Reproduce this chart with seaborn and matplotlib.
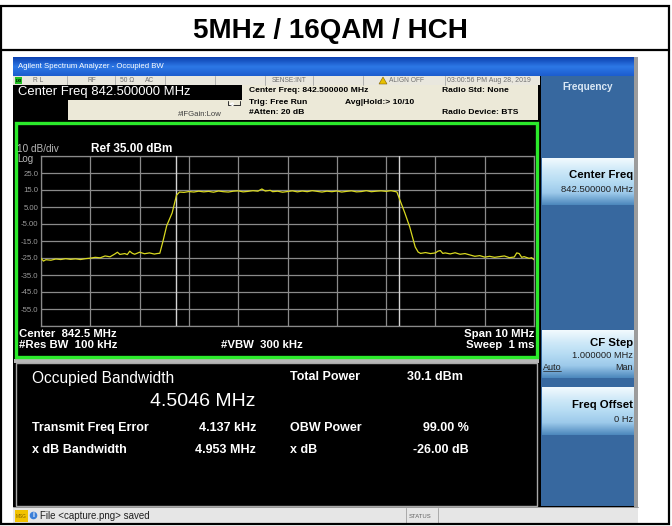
import numpy as np
import matplotlib
matplotlib.use("Agg")
import matplotlib.pyplot as plt
from matplotlib.patches import Rectangle, Polygon, Circle
from matplotlib.colors import LinearSegmentedColormap
import seaborn as sns

# ---------------- data ----------------
title = "5MHz / 16QAM / HCH"
center_mhz = 842.5
span_mhz = 10.0
ref_dbm = 35.0
db_per_div = 10.0
obw_mhz = 4.5046

offset_mhz = [-5.0, -4.95, -4.9, -4.8, -4.7, -4.6, -4.5, -4.4, -4.3, -4.2, -4.1, -4.0,
              -3.9, -3.8, -3.7, -3.6, -3.5, -3.45, -3.4, -3.3, -3.25, -3.2, -3.15, -3.1,
              -3.0, -2.9, -2.8, -2.7, -2.65, -2.59, -2.53, -2.45, -2.34, -2.29, -2.25, -2.19,
              -2.1, -2.0, -1.9, -1.8, -1.7, -1.6, -1.5, -1.4, -1.3, -1.2, -1.1, -1.0,
              -0.9, -0.8, -0.7, -0.6, -0.52, -0.45, -0.35, -0.3, -0.2, -0.1, 0.0, 0.1,
              0.2, 0.3, 0.4, 0.5, 0.6, 0.7, 0.8, 0.9, 1.0, 1.1, 1.2, 1.3,
              1.4, 1.5, 1.6, 1.7, 1.8, 1.9, 2.0, 2.1, 2.2, 2.22, 2.28, 2.38,
              2.48, 2.59, 2.65, 2.7, 2.8, 2.9, 3.0, 3.05, 3.1, 3.15, 3.2, 3.3,
              3.4, 3.5, 3.6, 3.7, 3.8, 3.9, 4.0, 4.1, 4.2, 4.3, 4.4, 4.5,
              4.6, 4.65, 4.7, 4.75, 4.8, 4.9, 4.95, 5.0]
level_dbm = [-25.2, -26.8, -26.0, -26.3, -25.6, -25.9, -25.4, -25.8, -25.5, -25.9, -25.4, -25.1,
             -24.6, -24.9, -23.8, -24.3, -22.6, -21.6, -22.9, -22.4, -23.0, -21.0, -22.2, -22.8,
             -21.6, -22.5, -22.0, -22.7, -22.4, -22.2, -15.6, -6.0, 1.5, 7.4, 12.0, 13.8,
             13.6, 14.1, 13.8, 14.3, 13.9, 14.2, 13.7, 14.4, 14.0, 13.8, 14.3, 14.5,
             13.9, 14.2, 14.6, 14.3, 15.6, 14.4, 14.8, 14.0, 14.3, 13.7, 14.1, 14.5,
             13.9, 14.4, 14.0, 14.6, 14.2, 13.8, 14.3, 14.0, 14.4, 13.8, 14.2, 14.5,
             13.9, 14.1, 14.6, 14.0, 14.3, 14.5, 14.2, 14.6, 14.0, 13.8, 9.1, 1.5,
             -6.8, -18.5, -21.5, -22.3, -21.8, -22.4, -22.0, -21.0, -20.6, -22.3, -22.0, -22.6,
             -21.9, -22.8, -22.4, -23.2, -24.0, -23.6, -24.5, -24.0, -24.6, -24.2, -23.8, -24.8,
             -24.4, -22.0, -22.4, -24.6, -24.2, -25.2, -24.8, -26.0]

y_tick_values = [-65, -55, -45, -35, -25, -15, -5, 5, 15, 25, 35]
y_tick_labels = ["", "-55.0", "-45.0", "-35.0", "-25.0", "-15.0", "-5.00", "5.00", "15.0", "25.0", ""]

meas_left_labels = ["Transmit Freq Error", "x dB Bandwidth"]
meas_left_values = ["4.137 kHz", "4.953 MHz"]
meas_right_labels = ["OBW Power", "x dB"]
meas_right_values = ["99.00 %", "-26.00 dB"]

# ---------------- style ----------------
sns.set_style("dark")
plt.rcParams["font.family"] = ["Liberation Sans", "DejaVu Sans"]

W, H = 672, 526
fig = plt.figure(figsize=(W / 100, H / 100), dpi=100)
fig.patch.set_facecolor("white")
bg = fig.add_axes([0, 0, 1, 1], zorder=0)
bg.set_xlim(0, W)
bg.set_ylim(H, 0)
bg.axis("off")


def rect(x0, y0, x1, y1, fc, ec="none", lw=0, z=1):
    bg.add_patch(Rectangle((x0, y0), x1 - x0, y1 - y0, facecolor=fc,
                           edgecolor=ec, linewidth=lw, zorder=z))


def grad(x0, y0, x1, y1, colors, z=1):
    cmap = LinearSegmentedColormap.from_list("g", colors)
    bg.imshow(np.linspace(0, 1, 64).reshape(-1, 1), cmap=cmap, aspect="auto",
              extent=(x0, x1, y1, y0), zorder=z, interpolation="bilinear")


def txt(x, y, s, size, color, weight="normal", ha="left", va="center", z=5, **kw):
    bg.text(x, y, s, fontsize=size, color=color, fontweight=weight, ha=ha, va=va,
            zorder=z, **kw)


# outer frame & title
rect(1, 6, 669, 524, "none", ec="black", lw=1.6, z=10)
bg.plot([1, 669], [50, 50], color="black", lw=1.6, zorder=10)
txt(330, 31, title, 20, "black", weight="bold", ha="center")

# screen
rect(13, 57, 638, 525, "black")
rect(634, 57, 638, 525, "#9c9c9c", z=2)
grad(13, 57, 634, 76, ["#0b3fae", "#2d78e6", "#1c5dcf"], z=2)
txt(18, 66.5, "Agilent Spectrum Analyzer - Occupied BW", 5.6, "white")

# status row
rect(13, 76, 540, 85, "#e9e7de", z=2)
for xs in [67, 115, 165, 215, 265, 313, 363, 445]:
    bg.plot([xs, xs], [76, 85], color="#a8a8a8", lw=0.6, zorder=3)
rect(15, 77, 22, 84, "#22c022", z=3)
txt(18.5, 80.5, "LXI", 2.8, "black", ha="center", weight="bold")
txt(33, 80.5, "R L", 4.8, "#707070")
txt(88, 80.5, "RF", 4.8, "#707070")
txt(120, 80.5, "50 Ω", 4.8, "#707070")
txt(145, 80.5, "AC", 4.8, "#707070")
txt(289, 80.5, "SENSE:INT", 4.8, "#707070", ha="center")
bg.add_patch(Polygon([[379, 84], [387, 84], [383, 77]], closed=True, facecolor="#e8c000",
                     edgecolor="#806000", lw=0.4, zorder=3))
txt(389, 80.5, "ALIGN OFF", 4.8, "#707070")
txt(447, 80.5, "03:00:56 PM Aug 28, 2019", 5.0, "#707070")

# info area
rect(15, 85, 538, 120, "#ece9d8", z=2)
rect(15, 85, 242, 99.5, "black", z=3)
rect(15, 99.5, 68, 120, "black", z=3)
txt(18, 92.5, "Center Freq 842.500000 MHz", 9.4, "white", z=4)
txt(178, 114, "#IFGain:Low", 5.6, "#404040")
bg.plot([228, 228, 240, 240], [101, 105, 105, 101], color="#303030", lw=0.7, zorder=4)
bg.add_patch(Polygon([[230, 104.2], [233, 102.8], [233, 105.6]], closed=True,
                     facecolor="#303030", zorder=4))
txt(249, 91, "Center Freq: 842.500000 MHz", 6.1, "black", weight="bold")
txt(249, 102, "Trig: Free Run", 6.1, "black", weight="bold")
txt(249, 112, "#Atten: 20 dB", 6.1, "black", weight="bold")
txt(345, 102, "Avg|Hold:> 10/10", 6.1, "black", weight="bold")
txt(442, 91, "Radio Std: None", 6.1, "black", weight="bold")
txt(442, 112, "Radio Device: BTS", 6.1, "black", weight="bold")

# graph area
rect(16, 122.5, 537, 357, "black", ec="#2bea2b", lw=2.4, z=3)
txt(17, 149, "10 dB/div", 7.2, "#b8b8b8")
txt(17, 158.5, "Log", 7.0, "#b8b8b8")
txt(91, 149, f"Ref {ref_dbm:.2f} dBm", 8.5, "white", weight="bold")
txt(19, 334, f"Center  {center_mhz} MHz", 8.2, "white", weight="bold")
txt(19, 345.5, "#Res BW  100 kHz", 8.2, "white", weight="bold")
txt(262, 345.5, "#VBW  300 kHz", 8.2, "white", weight="bold", ha="center")
txt(534, 334, f"Span {span_mhz:.0f} MHz", 8.2, "white", weight="bold", ha="right")
txt(534, 345.5, "Sweep  1 ms", 8.2, "white", weight="bold", ha="right")

# measurement area
rect(14, 359, 539, 362.5, "#b8b8b8", z=2)
rect(16, 362.5, 537, 506, "black", ec="#a8a8a8", lw=1, z=2)
txt(32, 378, "Occupied Bandwidth", 11.2, "white")
txt(256, 401, f"{obw_mhz:.4f} MHz", 14.0, "white", ha="right")
txt(290, 377, "Total Power", 9.0, "white", weight="bold")
txt(407, 377, "30.1 dBm", 9.0, "white", weight="bold")
for i, (a, b, c, d) in enumerate(zip(meas_left_labels, meas_left_values,
                                     meas_right_labels, meas_right_values)):
    yy = 428 + i * 22
    txt(32, yy, a, 9.0, "white", weight="bold")
    txt(256, yy, b, 9.0, "white", weight="bold", ha="right")
    txt(290, yy, c, 9.0, "white", weight="bold")
    txt(469, yy, d, 9.0, "white", weight="bold", ha="right")

# right softkey panel
rect(541, 76, 634, 506, "#37689f", z=2)
txt(588, 87, "Frequency", 7.2, "#dbe8f5", weight="bold", ha="center")


def button(y0, y1):
    grad(542, y0, 634, y1, ["#f2fafe", "#cfe9f8", "#b6dcf3", "#9cc9ea", "#4d88bd"], z=3)


button(158, 205)
txt(633, 175, "Center Freq", 8.2, "black", weight="bold", ha="right", z=6)
txt(633, 189, "842.500000 MHz", 6.8, "#202020", ha="right", z=6)
button(330, 378)
txt(633, 343, "CF Step", 8.2, "black", weight="bold", ha="right", z=6)
txt(633, 355, "1.000000 MHz", 6.7, "#202020", ha="right", z=6)
txt(543, 367, "Auto", 6.5, "#202020", z=6)
bg.plot([543, 561], [371, 371], color="#202020", lw=0.5, zorder=6)
txt(633, 367, "Man", 6.5, "#202020", ha="right", z=6)
button(387, 435)
txt(633, 405, "Freq Offset", 8.2, "black", weight="bold", ha="right", z=6)
txt(633, 420, "0 Hz", 6.7, "#202020", ha="right", z=6)

# status bar
rect(13, 507, 638, 525, "#e6e6e6", z=2)
bg.plot([13, 638], [507, 507], color="#8c8c8c", lw=0.6, zorder=3)
rect(15, 510, 28, 522, "#f2c200", z=3)
txt(21.5, 516, "MSG", 3.4, "#806000", ha="center", z=4)
bg.add_patch(Circle((33.5, 515.5), 3.8, facecolor="#3b7fd8", edgecolor="none", zorder=3))
txt(33.5, 515.5, "i", 4.8, "white", weight="bold", ha="center", z=4)
txt(40, 516, "File <capture.png> saved", 7.0, "#202020")
for xs in [406, 438]:
    bg.plot([xs, xs], [508, 524], color="#a0a0a0", lw=0.6, zorder=3)
txt(409, 516, "STATUS", 4.2, "#606060")

# ---------------- spectrum plot ----------------
x0, x1, y0, y1 = 41, 534, 156, 326
ax = fig.add_axes([x0 / W, 1 - y1 / H, (x1 - x0) / W, (y1 - y0) / H], zorder=5)
ax.set_facecolor("black")
freq = [center_mhz + o for o in offset_mhz]
sns.lineplot(x=freq, y=level_dbm, ax=ax, color="#d9d920", lw=0.9, zorder=4)
ax.set_xlim(center_mhz - span_mhz / 2, center_mhz + span_mhz / 2)
ax.set_ylim(ref_dbm - 10 * db_per_div, ref_dbm)
ax.set_xticks([center_mhz - span_mhz / 2 + i for i in range(11)])
ax.set_xticklabels([])
ax.set_yticks(y_tick_values)
ax.set_yticklabels(y_tick_labels)
ax.tick_params(axis="both", length=0, pad=2, labelsize=5.6, labelcolor="#9a9a9a")
ax.grid(True, color="#8a8a8a", lw=0.9)
for s in ax.spines.values():
    s.set_visible(True)
    s.set_color("#8a8a8a")
    s.set_linewidth(0.9)
for e in (-obw_mhz / 2, obw_mhz / 2):
    ax.axvline(center_mhz + e, color="#d4d4d4", lw=1.0, zorder=3)
ax.set_xlabel("")
ax.set_ylabel("")

fig.savefig("out.png", dpi=100, facecolor="white")
